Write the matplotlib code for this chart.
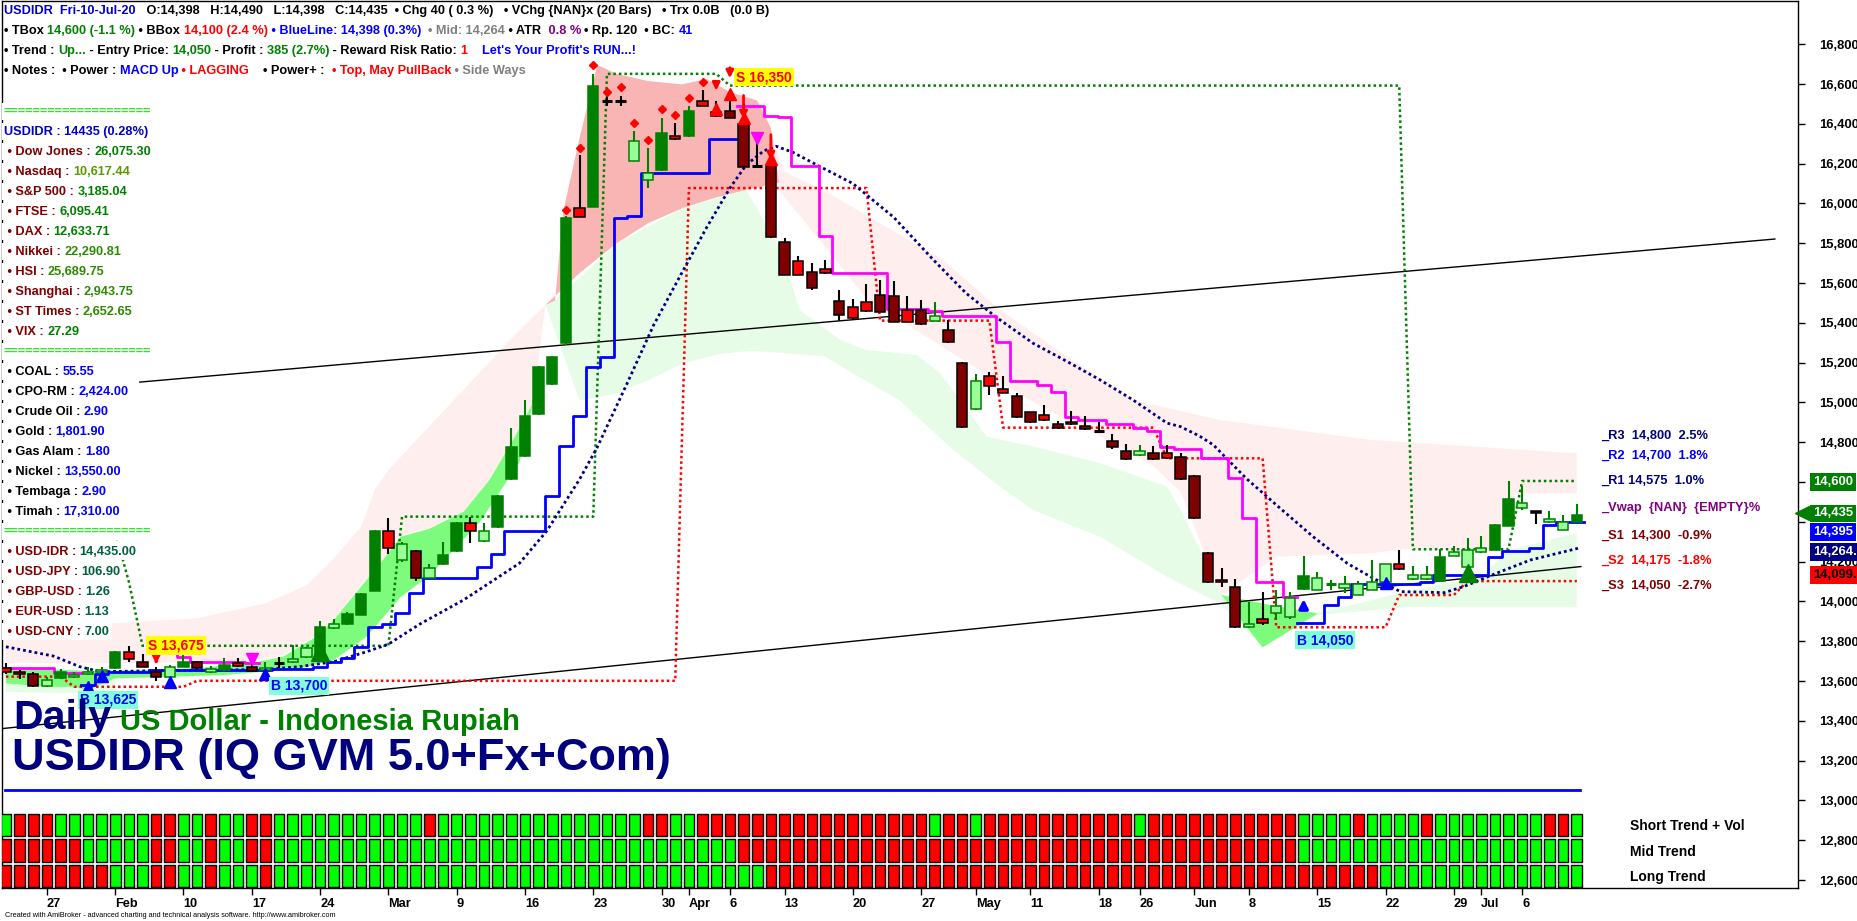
import numpy as np
import pandas as pd
import matplotlib
matplotlib.use("Agg")
import matplotlib.pyplot as plt
import matplotlib.transforms as mtransforms
from matplotlib.ticker import FuncFormatter

plt.rcParams['font.family'] = ['Liberation Sans', 'DejaVu Sans']

# ---------------------------------------------------------------- data
holidays = ['2020-04-10', '2020-05-01', '2020-05-07', '2020-05-21',
            '2020-05-22', '2020-05-25', '2020-06-01']
dates = [d for d in pd.bdate_range('2020-01-22', '2020-07-10')
         if d.strftime('%Y-%m-%d') not in holidays]

opens = [13664, 13645, 13633, 13575, 13613, 13618, 13633, 13643, 13663, 13747,
         13695, 13647, 13618, 13672, 13697, 13643, 13655, 13689, 13672, 13655,
         13692, 13694, 13719, 13722, 13864, 13884, 13934, 14054, 14354, 14210,
         14255, 14120, 14187, 14251, 14395, 14305, 14372, 14614, 14731, 14941,
         15090, 15296, 15975, 15984, 16513, 16513, 16215, 16118, 16167, 16337,
         16337, 16517, 16457, 16463, 16400, 16190, 16194, 15808, 15709, 15655,
         15669, 15511, 15478, 15506, 15540, 15535, 15464, 15464, 15411, 15364,
         15196, 14965, 15133, 15066, 15032, 14950, 14937, 14890, 14900, 14881,
         14858, 14808, 14757, 14734, 14744, 14744, 14727, 14632, 14245, 14106,
         14074, 13870, 13910, 13940, 13923, 14061, 14057, 14086, 14066, 14032,
         14057, 14099, 14186, 14111, 14111, 14102, 14228, 14175, 14247, 14258,
         14379, 14468, 14454, 14397, 14359, 14398]
highs = [13692, 13655, 13647, 13621, 13658, 13647, 13668, 13668, 13750, 13777,
         13735, 13672, 13680, 13730, 13700, 13675, 13714, 13714, 13692, 13697,
         13719, 13781, 13772, 13903, 13910, 13948, 14040, 14358, 14420, 14300,
         14260, 14187, 14300, 14400, 14425, 14395, 14535, 14869, 15012, 15185,
         15233, 15935, 16244, 16651, 16538, 16538, 16364, 16280, 16430, 16405,
         16490, 16571, 16517, 16535, 16499, 16346, 16265, 15826, 15736, 15700,
         15716, 15565, 15518, 15595, 15615, 15612, 15535, 15514, 15506, 15414,
         15201, 15143, 15151, 15133, 15046, 14952, 14987, 14907, 14957, 14932,
         14900, 14841, 14791, 14784, 14781, 14784, 14744, 14635, 14248, 14166,
         14111, 13999, 14046, 14057, 14049, 14228, 14146, 14108, 14128, 14104,
         14208, 14190, 14258, 14178, 14178, 14262, 14278, 14317, 14329, 14388,
         14605, 14582, 14456, 14456, 14434, 14490]
lows = [13635, 13608, 13571, 13571, 13610, 13613, 13630, 13642, 13660, 13697,
        13668, 13601, 13613, 13668, 13660, 13642, 13652, 13672, 13648, 13652,
        13663, 13692, 13717, 13719, 13861, 13881, 13932, 14050, 14237, 14200,
        14102, 14118, 14183, 14249, 14291, 14300, 14370, 14610, 14728, 14938,
        15088, 15290, 15930, 15980, 16490, 16490, 16211, 16077, 16163, 16320,
        16333, 16487, 16436, 16428, 16181, 16188, 15826, 15638, 15638, 15565,
        15646, 15411, 15421, 15456, 15453, 15404, 15404, 15389, 15409, 15300,
        14873, 14963, 15037, 15047, 14923, 14898, 14908, 14868, 14888, 14863,
        14848, 14764, 14712, 14732, 14712, 14716, 14611, 14414, 14093, 14074,
        13868, 13868, 13881, 13906, 13910, 14059, 14055, 14057, 14040, 14030,
        14055, 14095, 14159, 14109, 14109, 14100, 14226, 14171, 14245, 14256,
        14377, 14459, 14387, 14396, 14357, 14398]
closes = [13644, 13633, 13575, 13605, 13643, 13630, 13647, 13655, 13747, 13709,
          13672, 13618, 13672, 13697, 13663, 13658, 13680, 13675, 13652, 13667,
          13692, 13710, 13764, 13873, 13886, 13936, 14037, 14353, 14269, 14287,
          14120, 14169, 14233, 14395, 14354, 14354, 14528, 14775, 14934, 15179,
          15228, 15928, 15933, 16592, 16513, 16513, 16316, 16154, 16352, 16323,
          16463, 16490, 16439, 16431, 16185, 16190, 15831, 15641, 15641, 15574,
          15649, 15439, 15422, 15461, 15456, 15406, 15406, 15392, 15434, 15302,
          14878, 15107, 15084, 15049, 14925, 14900, 14912, 14870, 14890, 14865,
          14858, 14774, 14714, 14757, 14714, 14719, 14613, 14417, 14096, 14096,
          13870, 13886, 13890, 13979, 14015, 14128, 14116, 14086, 14086, 14087,
          14099, 14186, 14161, 14133, 14133, 14225, 14247, 14258, 14267, 14384,
          14515, 14493, 14446, 14414, 14397, 14435]
# candle colour class: g dark green, lg light green, r red, m maroon, k black doji, gk green doji
kinds = ("r r m lg g lg lg lg g r "
         "m m lg g m lg g r m lg "
         "k lg lg g lg g g g r lg "
         "m lg g g r lg g g g g "
         "g g r g k k lg lg g r "
         "g r m m m k m m r m "
         "r m r r m m r m lg m "
         "m lg r r m m r m r m "
         "k m m lg m r m m m r "
         "m lg r lg lg g lg gk lg lg "
         "lg lg r lg lg g lg lg lg g "
         "g lg m lg lg g").split()

trend_short = ("GRRRGGGGGG" "GRRGGRGGRR" "GGGGGGGGGG" "GRGGGGGGGG" "GGGGGGGRRG"
               "GRRRRRRRRR" "RRRRRRRRGR" "RGRRRRRRRR" "RRRGRRRRRR" "RRRRRGGGGR"
               "GGGGRGGGGG" "GGGRRG")
trend_mid = ("RRRRRRGGGG" "GRRGGRGGRR" "GGGGGGGGGG" "GGGGGGGGGG" "GGGGGGGGGG"
             "GGGGRRRRRR" "RRRRRRRRRR" "RRRRRRRRRR" "RRRRRRRRRR" "RRRRRGGGGG"
             "GGGGGGGGGG" "GGGGGG")
trend_long = ("RRRRRRRRGG" "GRRGGRGGGR" "GGGGGGGGGG" "GGGGGGGGGG" "GGGGGGGGGG"
              "GGGGGGRRRR" "RRRRRRRRRR" "RRRRRRRRRR" "RRRRRRRRRR" "RRRRRRRRRR"
              "RGGGGGGGGG" "GGGGGG")

# BlueLine (trailing stop, staircase): from bar, to bar, value
blue_from = [6, 7, 8, 11, 20, 23, 24, 25, 26, 27, 28, 29, 30, 31, 35, 36, 37, 40, 41, 42, 43, 44,
             45, 46, 47, 52, 95, 97, 98, 99, 104, 105, 109, 110, 112, 113, 114]
blue_to = [6, 7, 10, 19, 22, 23, 24, 25, 26, 27, 28, 29, 30, 34, 35, 36, 39, 40, 41, 42, 43, 44,
           45, 46, 51, 53, 96, 97, 98, 103, 104, 108, 109, 111, 112, 113, 115]
blue_val = [13580, 13635, 13647, 13655, 13660, 13672, 13697, 13714, 13772, 13873, 13886, 13940,
            14040, 14120, 14174, 14237, 14354, 14528, 14779, 14933, 15179, 15230, 15928, 15939,
            16152, 16325, 13893, 13982, 14020, 14087, 14099, 14133, 14225, 14253, 14270, 14384, 14398]
# magenta staircase
mag_from = [0, 4, 11, 13, 14, 18, 54, 56, 57, 58, 60, 61, 65, 68, 69, 73, 74, 76, 77, 78, 79, 81,
            83, 84, 85, 86, 88, 90, 91, 92, 94]
mag_to = [3, 5, 12, 13, 17, 18, 55, 56, 57, 59, 60, 64, 67, 68, 72, 73, 75, 76, 77, 78, 80, 82,
          83, 84, 85, 87, 89, 90, 91, 93, 94]
mag_val = [13663, 13642, 13747, 13722, 13697, 13689, 16490, 16441, 16436, 16190, 15835, 15652,
           15468, 15461, 15436, 15305, 15109, 15087, 15054, 14928, 14912, 14891, 14870, 14858,
           14778, 14764, 14722, 14618, 14421, 14099, 14024]
# TBox (green dotted) and BBox (red dotted)
tbox_from = [0, 9, 10, 29, 44, 53, 103, 111]
tbox_to = [8, 9, 28, 43, 52, 102, 110, 115]
tbox_val = [14350, 14099, 13777, 14426, 16651, 16592, 14262, 14605]
bbox_from = [0, 5, 14, 50, 64, 73, 85, 93, 102, 107]
bbox_to = [4, 13, 49, 63, 72, 84, 92, 101, 106, 115]
bbox_val = [13622, 13571, 13601, 16077, 15411, 14873, 14719, 13870, 14032, 14102]

# navy dotted average (read points)
ma_bars = [0, 3.5, 5.4, 6.9, 11.8, 18.9, 21.5, 24, 26.4, 28, 30.3, 33.5, 37.6, 39.6, 42, 43.3,
           45.5, 47.4, 49.3, 51.3, 53, 54.2, 55.5, 56.4, 57.6, 59.6, 62, 65, 67.9, 70.3, 72.5,
           75.2, 77.7, 80.1, 82.5, 85, 86, 87.4, 88.4, 90.8, 93.3, 95.7, 98.2, 100.1, 102.1,
           105.3, 106.7, 109.1, 111.6, 115.1]
ma_vals = [13772, 13725, 13672, 13647, 13652, 13658, 13672, 13697, 13747, 13785, 13886, 14007,
           14192, 14354, 14614, 14776, 15099, 15386, 15628, 15879, 16077, 16194, 16265, 16287,
           16257, 16185, 16100, 15930, 15716, 15548, 15428, 15297, 15205, 15113, 15013, 14896,
           14878, 14830, 14786, 14618, 14467, 14325, 14191, 14116, 14049, 14044, 14074, 14141,
           14208, 14267]

# trend lines (bar, price)
reg_up_bars, reg_up_vals = [9.8, 129.5], [15102, 15821]
reg_lo_bars, reg_lo_vals = [-0.4, 115.3], [13360, 14175]

# cloud bands (bar, price) outlines
pink_l_top = [(0, 13870), (4, 13875), (8, 13890), (14, 13915), (19, 13990), (22, 14080), (24, 14215),
              (26, 14375), (27, 14560), (28, 14660), (31, 14880), (34, 15100), (37, 15320), (39.5, 15490)]
pink_l_bot = [(0, 13690), (5, 13690), (10, 13690), (15, 13700), (18, 13700), (20.3, 13730),
              (22.7, 13830), (24, 13910), (25.2, 14010), (26.4, 14110), (27.6, 14210), (28.9, 14330),
              (31, 14370), (33.5, 14450), (35.4, 14610), (37.2, 14820), (38.6, 15000), (39.5, 15490)]
salmon_top = [(39.5, 15490), (40.2, 15511), (40.8, 15960), (42, 16330), (43.3, 16696), (44.7, 16651),
              (47, 16615), (49.5, 16598), (51.3, 16625), (53, 16560), (55, 16517), (56, 16380),
              (56.6, 16104)]
salmon_bot = [(39.5, 15490), (42, 15650), (44.7, 15799), (47, 15900), (49.6, 15978), (52, 16030),
              (54.2, 16068), (56.6, 16104)]
pink_r_top = [(56, 16350), (57, 16160), (60, 16060), (64, 15900), (68.6, 15716), (72.8, 15464),
              (77.7, 15230), (82.5, 15012), (88.9, 14911), (100, 14811), (115, 14744)]
pink_r_bot = [(56, 16110), (57.5, 15990), (60, 15780), (63, 15520), (66, 15390), (69, 15260),
              (72, 15130), (75, 15010), (78, 14900), (81, 14800), (84, 14680), (86, 14550),
              (88, 14200), (89, 14032), (93, 14225), (100, 14242), (103, 14267), (109, 14267),
              (110.5, 14543), (115, 14543)]
green_top = [(39.5, 15490), (40.2, 15511), (44.7, 15799), (49.6, 15978), (54.2, 16068), (56.9, 15745),
             (58.1, 15464), (61.1, 15313), (63, 15263), (66.7, 15238), (68.4, 15146), (71.8, 14828),
             (75.2, 14778), (80.1, 14694), (85, 14577), (86, 14459), (89, 14032), (92.5, 13982),
             (96, 13940), (103, 14057), (108, 14124), (110, 14258), (115, 14342)]
green_bot = [(39.5, 15490), (42, 15009), (44.7, 15045), (47.2, 15117), (49.6, 15197), (52.1, 15242),
             (54.5, 15260), (59.9, 15233), (62, 15146), (65.4, 15012), (69.1, 14777), (72.8, 14576),
             (75.2, 14459), (80.1, 14325), (85, 14124), (88.9, 13990), (92, 13769), (96, 13932),
             (103, 13973), (115, 13973)]
bright_top = [(0, 13663), (3, 13660), (6, 13650), (10, 13655), (14, 13665), (18, 13690), (20.3, 13722),
              (22.7, 13822), (24, 13906), (25.2, 14007), (26.4, 14107), (27.6, 14208), (28.9, 14325),
              (31, 14365), (33.5, 14450), (35.4, 14610), (37.2, 14820), (38.6, 15000)]
bright_bot = [(0, 13588), (3, 13571), (5, 13570), (6, 13555), (8, 13613), (12, 13622), (16, 13630),
              (19, 13647), (21.5, 13663), (24, 13705), (26.4, 13822), (28.9, 14022), (31, 14129),
              (34.7, 14399), (37.6, 14700), (38.6, 15000)]
bright2_top = [(89, 14032), (92.5, 13982), (96, 13940)]
bright2_bot = [(89, 14032), (92, 13769), (96, 13938)]
palegreen_l_top = [(0, 13588), (3, 13571), (5, 13570), (6, 13555), (8, 13613)]
palegreen_l_bot = [(0, 13545), (4, 13540), (8, 13545)]

# signal markers
dot_bars = [41, 42, 43, 44, 45, 46, 47, 48, 49, 50, 51]
dot_vals = [15969, 16280, 16693, 16562, 16583, 16405, 16319, 16472, 16445, 16531, 16610]
sell_bars = [11, 52, 53, 54, 56]
sell_tip = [13672, 16553, 16615, 16409, 16203]
sell_tail = [13714, 16628, 16696, 16556, 16359]
redtri_bars, redtri_vals = [52, 53, 54, 56], [16472, 16549, 16427, 16221]
magtri_bars, magtri_vals = [18, 55], [13710, 16330]
bluetri_bars, bluetri_vals = [6, 7, 12, 19, 101], [13568, 13625, 13596, 13635, 14090]
greentri_bars, greentri_vals = [23, 107], [13745, 14141]
buy_bar, buy_tail, buy_tip = 95, 13950, 14026

sig_labels = [("S 13,675", 12.45, 13778, '#FF0000', '#FFFF00'),
              ("B 13,625", 7.47, 13505, '#0000FF', '#80FFD8'),
              ("B 13,700", 21.46, 13575, '#0000FF', '#80FFD8'),
              ("B 14,050", 96.57, 13806, '#0000FF', '#80FFD8'),
              ("S 16,350", 55.5, 16635, '#FF0000', '#FFFF00')]

level_text = ["_R3  14,800  2.5%", "_R2  14,700  1.8%", "_R1 14,575  1.0%", "_Vwap  {NAN}  {EMPTY}%",
              "_S1  14,300  -0.9%", "_S2  14,175  -1.8%", "_S3  14,050  -2.7%"]
level_vals = [14800, 14700, 14575, 14438, 14300, 14175, 14050]
level_cols = ['#000080', '#0000FF', '#000080', '#800080', '#800000', '#FF0000', '#800000']

tag_text = ["14,600", "14,435", "14,395", "14,264.3", "14,099.5"]
tag_pos = [14600, 14442, 14347, 14248, 14133]
tag_bg = ['#008000', '#008000', '#0000FF', '#000080', '#FF0000']
tag_fg = ['white', 'white', 'white', 'white', 'black']
hidden_ticks = [14400, 14600]

# ---------------------------------------------------------------- layout
W, H, DPI = 1858, 921, 100
n = len(closes)
xb = np.arange(n)
o, hi, lo, c = map(np.array, (opens, highs, lows, closes))

fig = plt.figure(figsize=(W / DPI, H / DPI), dpi=DPI, facecolor='white')
AXL, AXR, AXT, AXB = 2, 1798, 1, 888
ax = fig.add_axes([AXL / W, 1 - AXB / H, (AXR - AXL) / W, (AXB - AXT) / H])
X0, BW = 5.9, 13.66
ax.set_xlim((AXL - X0) / BW, (AXR - X0) / BW)
ax.set_ylim(12600 - (AXB - 880) / 0.199, 12600 + (880 - AXT) / 0.199)
for s in ax.spines.values():
    s.set_color('black'); s.set_linewidth(1)
IDT = mtransforms.IdentityTransform()


def poly(top, bot, color, z):
    tx, ty = zip(*top)
    bx, by = zip(*bot)
    ax.fill(list(tx) + list(bx[::-1]), list(ty) + list(by[::-1]), color=color, lw=0, zorder=z)


poly(pink_l_top, pink_l_bot, '#FFEEEE', 1)
poly(pink_r_top, pink_r_bot, '#FFEEEE', 1)
poly(green_top, green_bot, '#E6FCE6', 1.1)
poly(palegreen_l_top, palegreen_l_bot, '#E6FCE6', 1.1)
poly(salmon_top, salmon_bot, '#F9B4B4', 1.2)
poly(bright_top, bright_bot, '#7DFB7D', 1.3)
poly(bright2_top, bright2_bot, '#7DFB7D', 1.3)

ax.plot(reg_up_bars, reg_up_vals, color='black', lw=1, zorder=2)
ax.plot(reg_lo_bars, reg_lo_vals, color='black', lw=1, zorder=2)


def expand(fr, to, val):
    v = np.full(n, np.nan)
    for a, b, y in zip(fr, to, val):
        v[a:b + 1] = y
    return v


def stair(v):
    xs, ys = [], []
    for i in range(n):
        if np.isnan(v[i]):
            if xs and not np.isnan(ys[-1]):
                xs.append(np.nan); ys.append(np.nan)
            continue
        xs += [i - 0.5, i + 0.5]
        ys += [v[i], v[i]]
    return xs, ys


ax.plot(xb, expand(tbox_from, tbox_to, tbox_val), color='#008000', lw=1.8, ls=(0, (1, 1.2)), zorder=3)
ax.plot(xb, expand(bbox_from, bbox_to, bbox_val), color='#FF0000', lw=1.8, ls=(0, (1, 1.2)), zorder=3)
ax.plot(ma_bars, ma_vals, color='#000080', lw=2.0, ls=(0, (1, 1.1)), zorder=3)
sx, sy = stair(expand(blue_from, blue_to, blue_val))
ax.plot(sx, sy, color='#0000FF', lw=2.0, zorder=4)
sx, sy = stair(expand(mag_from, mag_to, mag_val))
ax.plot(sx, sy, color='#FF00FF', lw=2.0, zorder=4)

# candles
fills = {'g': '#008000', 'lg': '#99FF99', 'r': '#FF0000', 'm': '#800000', 'k': 'black', 'gk': '#008000'}
edges = {'g': '#008000', 'lg': '#008000', 'r': 'black', 'm': 'black', 'k': 'black', 'gk': '#008000'}
fc = [fills[k] for k in kinds]
ec = [edges[k] for k in kinds]
ax.vlines(xb, lo, hi, colors=ec, lw=1.5, zorder=5)
body = np.array([k not in ('k', 'gk') for k in kinds])
ax.bar(xb[body], np.maximum(np.abs(c - o), 8)[body], bottom=np.minimum(o, c)[body], width=0.76,
       color=np.array(fc)[body], edgecolor=np.array(ec)[body], lw=1.1, zorder=6)
ax.hlines(o[~body], xb[~body] - 0.38, xb[~body] + 0.38, colors=np.array(ec)[~body], lw=2.2, zorder=6)

# markers
ax.plot(dot_bars, dot_vals, ls='none', marker='D', ms=4, color='#FF0000', zorder=7)
for b, tp, tl in zip(sell_bars, sell_tip, sell_tail):
    ax.annotate('', xy=(b, tp), xytext=(b, tl),
                arrowprops=dict(arrowstyle='-|>', color='#FF0000', lw=2, mutation_scale=11), zorder=7)
ax.plot(redtri_bars, redtri_vals, ls='none', marker='^', ms=8, color='#FF0000', zorder=7)
ax.plot(magtri_bars, magtri_vals, ls='none', marker='v', ms=9, color='#FF00FF', zorder=7)
ax.plot(bluetri_bars, bluetri_vals, ls='none', marker='^', ms=8, color='#0000FF', zorder=7)
ax.plot(greentri_bars, greentri_vals, ls='none', marker='^', ms=13, color='#008000', zorder=7)
ax.annotate('', xy=(buy_bar, buy_tip), xytext=(buy_bar, buy_tail),
            arrowprops=dict(arrowstyle='-|>', color='#0000FF', lw=2.5, mutation_scale=13), zorder=7)

for txt, bx_, py, fg, bg in sig_labels:
    ax.text(bx_, py, txt, ha='center', va='center', fontsize=10, fontweight='bold', color=fg,
            zorder=8, bbox=dict(boxstyle='square,pad=0.15', facecolor=bg, edgecolor='none'))

# blue separator line
ax.plot([-0.1, 115.2], [13052, 13052], color='#0000FF', lw=2, zorder=3)

# support / resistance labels
for t, v, col in zip(level_text, level_vals, level_cols):
    ax.text(116.8, v + 30, t, ha='left', va='center', fontsize=9.3, fontweight='bold', color=col, zorder=8)

# axes ticks
tick_pos, tick_lab = [], []
for i in range(1, n):
    d, p = dates[i], dates[i - 1]
    if d.month != p.month:
        tick_pos.append(i); tick_lab.append(d.strftime('%b'))
    elif d.isocalendar()[1] != p.isocalendar()[1]:
        tick_pos.append(i); tick_lab.append(str(d.day))
ax.set_xticks(tick_pos)
ax.set_xticklabels(tick_lab, fontsize=9.2, fontweight='bold', ha='left')
ax.tick_params(axis='x', length=5, width=1, pad=2, direction='out')
ax.yaxis.tick_right()
ax.set_yticks(np.arange(12600, 16801, 200))
ax.yaxis.set_major_formatter(FuncFormatter(lambda v, p: "" if round(v) in hidden_ticks else f"{v:,.0f}"))
ax.tick_params(axis='y', length=5, width=1, pad=10, labelsize=9.4)
for t in ax.get_yticklabels():
    t.set_fontweight('bold')

# right-hand price tags
for t, v, bg, fg in zip(tag_text, tag_pos, tag_bg, tag_fg):
    ax.annotate(t, xy=(1, v), xycoords=('axes fraction', 'data'), xytext=(15, 0),
                textcoords='offset pixels', ha='left', va='center', fontsize=9.4, fontweight='bold',
                color=fg, annotation_clip=False, zorder=9,
                bbox=dict(boxstyle='square,pad=0.22', facecolor=bg, edgecolor='none'))
ax.plot([1.0025], [14442], marker='<', ms=10, color='#008000',
        transform=mtransforms.blended_transform_factory(ax.transAxes, ax.transData), clip_on=False, zorder=9)

# trend bar strip
axt = fig.add_axes([AXL / W, 1 - 889 / H, (AXR - AXL) / W, (889 - 812) / H])
axt.set_xlim(ax.get_xlim()); axt.set_ylim(0, 3)
axt.axis('off')
axt.patch.set_alpha(0)
for row, seq in ((2, trend_short), (1, trend_mid), (0, trend_long)):
    cols = ['#00FF00' if ch == 'G' else '#FF0000' for ch in seq]
    axt.bar(xb, 0.88, bottom=row + 0.06, width=0.78, color=cols, edgecolor='black', lw=1)
for row, lab in ((2, 'Short Trend + Vol'), (1, 'Mid Trend'), (0, 'Long Trend')):
    axt.text(118.9, row + 0.45, lab, ha='left', va='center', fontsize=10, fontweight='bold')


# ---------------------------------------------------------------- text panels
def rich(xp, yp, parts, size=9.2, bg=False):
    prev = None
    for txt, col in parts:
        kw = dict(fontsize=size, fontweight='bold', color=col, va='center', ha='left', zorder=30)
        if bg:
            kw['bbox'] = dict(boxstyle='square,pad=0.18', facecolor='white', edgecolor='none')
        if prev is None:
            prev = ax.text(xp, H - yp, txt, transform=IDT, **kw)
        else:
            prev = ax.annotate(txt, xy=(1, 0.5), xycoords=prev, annotation_clip=False, **kw)


BLK, GRN, RED, BLU, GRY, PUR, MAR = 'black', '#008000', '#FF0000', '#0000FF', '#808080', '#800080', '#800000'
rich(4, 11, [("USDIDR  Fri-10-Jul-20", '#0000CC'),
             ("   O:14,398   H:14,490   L:14,398   C:14,435  \u2022 Chg 40 ( 0.3 %)   \u2022 VChg {NAN}x (20 Bars)   \u2022 Trx 0.0B   (0.0 B)", BLK)])
rich(4, 31, [("\u2022 TBox ", BLK), ("14,600 (-1.1 %)", GRN), (" \u2022 BBox ", BLK), ("14,100 (2.4 %)", RED),
             (" \u2022 BlueLine: 14,398 (0.3%)", BLU), ("  \u2022 Mid: 14,264", GRY), (" \u2022 ATR ", BLK),
             (" 0.8 % ", PUR), ("\u2022 Rp. 120  \u2022 BC: ", BLK), ("41", BLU)])
rich(4, 51, [("\u2022 Trend : ", BLK), ("Up...", GRN), (" - Entry Price: ", BLK), ("14,050", GRN),
             (" - Profit : ", BLK), ("385 (2.7%)", GRN), (" - Reward Risk Ratio: ", BLK), ("1", RED),
             ("    Let's Your Profit's RUN...!", BLU)])
rich(4, 71, [("\u2022 Notes :  \u2022 Power : ", BLK), ("MACD Up", BLU), (" \u2022 LAGGING", RED),
             ("    \u2022 Power+ :  ", BLK), ("\u2022 Top, May PullBack", RED), (" \u2022 Side Ways", GRY)])

panel_rows = [
    [("====================", '#22EE22')],
    [("USDIDR : 14435 (0.28%)", '#0000CC')],
    [(" \u2022 Dow Jones : ", MAR), ("26,075.30", GRN)],
    [(" \u2022 Nasdaq : ", MAR), ("10,617.44", '#5A9A00')],
    [(" \u2022 S&P 500 : ", MAR), ("3,185.04", GRN)],
    [(" \u2022 FTSE : ", MAR), ("6,095.41", GRN)],
    [(" \u2022 DAX : ", MAR), ("12,633.71", GRN)],
    [(" \u2022 Nikkei : ", MAR), ("22,290.81", '#2E8B00')],
    [(" \u2022 HSI : ", MAR), ("25,689.75", '#2E8B00')],
    [(" \u2022 Shanghai : ", MAR), ("2,943.75", '#2E8B00')],
    [(" \u2022 ST Times : ", MAR), ("2,652.65", '#2E8B00')],
    [(" \u2022 VIX : ", MAR), ("27.29", GRN)],
    [("====================", '#22EE22')],
    [(" \u2022 COAL : ", BLK), ("55.55", BLU)],
    [(" \u2022 CPO-RM : ", BLK), ("2,424.00", BLU)],
    [(" \u2022 Crude Oil : ", BLK), ("2.90", BLU)],
    [(" \u2022 Gold : ", BLK), ("1,801.90", BLU)],
    [(" \u2022 Gas Alam : ", BLK), ("1.80", BLU)],
    [(" \u2022 Nickel : ", BLK), ("13,550.00", BLU)],
    [(" \u2022 Tembaga : ", BLK), ("2.90", BLU)],
    [(" \u2022 Timah : ", BLK), ("17,310.00", BLU)],
    [("====================", '#22EE22')],
    [(" \u2022 USD-IDR : ", MAR), ("14,435.00", '#00603A')],
    [(" \u2022 USD-JPY : ", MAR), ("106.90", '#00603A')],
    [(" \u2022 GBP-USD : ", MAR), ("1.26", '#00603A')],
    [(" \u2022 EUR-USD : ", MAR), ("1.13", '#00603A')],
    [(" \u2022 USD-CNY : ", MAR), ("7.00", '#00603A')],
]
for k, parts in enumerate(panel_rows):
    rich(4, 111.7 + 20 * k, parts, bg=True)

# titles
ax.text(13, H - 729, "Daily", transform=IDT, fontsize=29.5, fontweight='bold', color='#00007F',
        va='baseline', ha='left', zorder=25)
ax.text(120.5, H - 730, "US Dollar - Indonesia Rupiah", transform=IDT, fontsize=21, fontweight='bold',
        color='#008000', va='baseline', ha='left', zorder=25)
ax.text(12.5, H - 770, "USDIDR (IQ GVM 5.0+Fx+Com)", transform=IDT, fontsize=32.5, fontweight='bold',
        color='#00007F', va='baseline', ha='left', zorder=25)
fig.text(5 / W, 1 - 915 / H, "Created with AmiBroker - advanced charting and technical analysis software. http://www.amibroker.com",
         fontsize=5.2, color='black', va='center', ha='left')

fig.savefig('out.png', dpi=DPI, facecolor='white')
